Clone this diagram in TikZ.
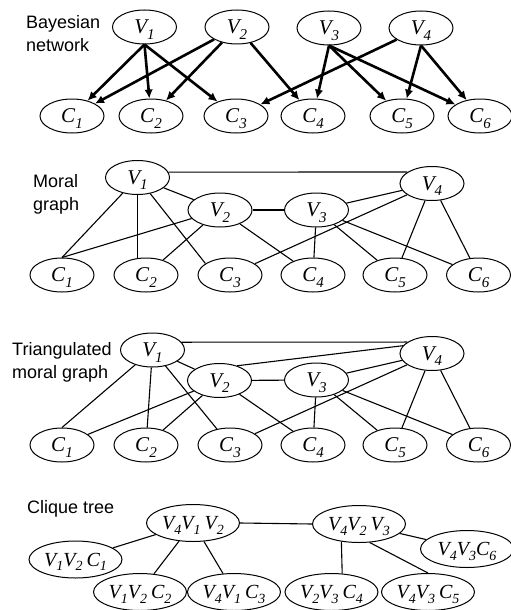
\documentclass[tikz,border=0pt]{standalone}
\usepackage{fontspec}
\setmainfont{Liberation Serif}
\newfontfamily\labelfont{Liberation Sans}
\usetikzlibrary{shapes.geometric,arrows.meta}
% lowered indices for the variable names
\newcommand\idxA[1]{\raisebox{-5.5pt}{\fontsize{15}{15}\selectfont #1}}
\newcommand\idxB[1]{\raisebox{-4.5pt}{\fontsize{14}{14}\selectfont #1}}

\begin{document}
\begin{tikzpicture}[x=1pt,y=-1pt,
  vn/.style={ellipse,draw,line width=1pt,minimum width=64pt,minimum height=34pt,
    inner sep=0pt,text depth=0pt,font=\fontsize{21}{21}\selectfont\itshape},
  cq/.style={ellipse,draw,line width=1pt,minimum width=93pt,minimum height=37pt,
    inner sep=0pt,text depth=0pt,font=\fontsize{20}{20}\selectfont\itshape},
  arr/.style={line width=2.6pt,-{Latex[length=9pt,width=8.5pt]}},
  ln/.style={line width=1.1pt},
  sec/.style={font=\fontsize{18}{23}\selectfont\labelfont,align=left,
    inner sep=0pt,anchor=north west}]
\useasboundingbox (0,0) rectangle (511,610);

% ---------- Bayesian network ----------
\node[sec] (tA) at (26,15) {Bayesian\\network};
\node[vn] (aV1) at (144.5,27) {V\idxA{1}};
\node[vn] (aV2) at (237,27) {V\idxA{2}};
\node[vn] (aV3) at (329,28) {V\idxA{3}};
\node[vn] (aV4) at (421,28) {V\idxA{4}};
\node[vn] (aC1) at (72,116) {C\idxA{1}};
\node[vn] (aC2) at (151,116) {C\idxA{2}};
\node[vn] (aC3) at (236,116) {C\idxA{3}};
\node[vn] (aC4) at (313,116) {C\idxA{4}};
\node[vn] (aC5) at (402,116) {C\idxA{5}};
\node[vn] (aC6) at (480,116) {C\idxA{6}};
\draw[arr] (aV1.south) -- (aC1);
\draw[arr] (aV1.south) -- (aC2);
\draw[arr] (aV1.south) -- (aC3);
\draw[arr] (aV2) -- (aC1);
\draw[arr] (aV2) -- (aC2);
\draw[arr] (aV2) -- (aC4);
\draw[arr] (aV3.south) -- (aC4);
\draw[arr] (aV3.south) -- (aC5);
\draw[arr] (aV3.south) -- (aC6);
\draw[arr] (aV4) -- (aC3);
\draw[arr] (aV4.south) -- (aC5);
\draw[arr] (aV4.south) -- (aC6);

% ---------- Moral graph ----------
\node[sec] (tB) at (33,174) {Moral\\graph};
\node[vn] (bV1) at (137.5,177.5) {V\idxA{1}};
\node[vn] (bV2) at (220,210) {V\idxA{2}};
\node[vn] (bV3) at (316.5,210) {V\idxA{3}};
\node[vn] (bV4) at (432,183.5) {V\idxA{4}};
\node[vn] (bC1) at (62,275) {C\idxA{1}};
\node[vn] (bC2) at (146,275) {C\idxA{2}};
\node[vn] (bC3) at (230,275) {C\idxA{3}};
\node[vn] (bC4) at (313,275) {C\idxA{4}};
\node[vn] (bC5) at (395,275) {C\idxA{5}};
\node[vn] (bC6) at (478.5,275) {C\idxA{6}};
\draw[ln] (bV1.10) -- (bV4.155);
\draw[ln] (bV1) -- (bV2);
\draw[ln] (bV2) -- (bV3);
\draw[ln] (bV3) -- (bV4);
\draw[ln] (bV1) -- (bC1.north);
\draw[ln] (bV1.south) -- (bV1.south |- bC2.north);
\draw[ln] (bV1) -- (bC3.155);
\draw[ln] (bV2) -- (bC1.north);
\draw[ln] (bV2) -- (bC2);
\draw[ln] (bV2) -- (bC4);
\draw[ln] (bV3) -- (bC4);
\draw[ln] (bV3) -- (bC5);
\draw[ln] (bV3) -- (bC6);
\draw[ln] (bV4) -- (bC3);
\draw[ln] (bV4) -- (bC5);
\draw[ln] (bV4) -- (bC6);

% ---------- Triangulated moral graph ----------
\node[sec] (tC) at (12,342) {Triangulated\\moral graph};
\node[vn] (cV1) at (152.5,350) {V\idxA{1}};
\node[vn] (cV2) at (219.5,380.5) {V\idxA{2}};
\node[vn] (cV3) at (316.5,380) {V\idxA{3}};
\node[vn] (cV4) at (432,353.5) {V\idxA{4}};
\node[vn] (cC1) at (62,445) {C\idxA{1}};
\node[vn] (cC2) at (146,445) {C\idxA{2}};
\node[vn] (cC3) at (230,445) {C\idxA{3}};
\node[vn] (cC4) at (313,445) {C\idxA{4}};
\node[vn] (cC5) at (395,445) {C\idxA{5}};
\node[vn] (cC6) at (478.5,445) {C\idxA{6}};
\draw[ln] (cV1.15) -- (cV4.155);
\draw[ln] (cV2.40) -- (cV4.165);
\draw[ln] (cV1) -- (cV2);
\draw[ln] (cV2) -- (cV3);
\draw[ln] (cV3) -- (cV4);
\draw[ln] (cV1) -- (cC1.north);
\draw[ln] (cV1) -- (cC2);
\draw[ln] (cV1) -- (cC3);
\draw[ln] (cV2) -- (cC1);
\draw[ln] (cV2) -- (cC2);
\draw[ln] (cV2) -- (cC4);
\draw[ln] (cV3) -- (cC4);
\draw[ln] (cV3) -- (cC5);
\draw[ln] (cV3) -- (cC6);
\draw[ln] (cV4) -- (cC3);
\draw[ln] (cV4) -- (cC5);
\draw[ln] (cV4) -- (cC6);

% ---------- Clique tree ----------
\node[sec] (tD) at (27,500) {Clique tree};
\node[cq] (dA) at (193,523) {V\idxB{4}V\idxB{1}\hspace{4pt}V\idxB{2}};
\node[cq] (dB) at (359,524) {V\idxB{4}V\idxB{2}\hspace{4pt}V\idxB{3}};
\node[cq] (d1) at (75.5,559.5) {V\idxB{1}V\idxB{2}\hspace{4pt}C\idxB{1}};
\node[cq] (d2) at (140,592) {V\idxB{1}V\idxB{2}\hspace{4pt}C\idxB{2}};
\node[cq] (d3) at (234,592) {V\idxB{4}V\idxB{1}\hspace{4pt}C\idxB{3}};
\node[cq] (d4) at (331.5,592) {V\idxB{2}V\idxB{3}\hspace{4pt}C\idxB{4}};
\node[cq] (d5) at (428,592) {V\idxB{4}V\idxB{3}\hspace{4pt}C\idxB{5}};
\node[cq] (d6) at (467,549) {V\idxB{4}V\idxB{3}C\idxB{6}};
\draw[ln] (dA.east) -- (dB.west);
\draw[ln] (dA) -- (d1);
\draw[ln] (dA) -- (d2);
\draw[ln] (dA) -- (d3);
\draw[ln] (dB.225) -- (d4.60);
\draw[ln] (dB.300) -- (d5.north);
\draw[ln] (dB) -- (d6);
\end{tikzpicture}
\end{document}
